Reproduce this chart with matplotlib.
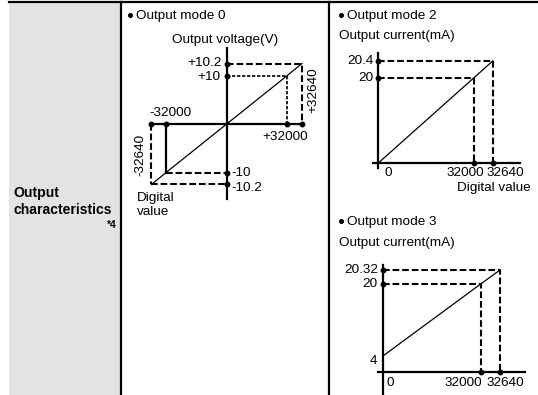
import numpy as np
import matplotlib
matplotlib.use('Agg')
import matplotlib.pyplot as plt

plt.rcParams['font.family'] = ['Liberation Sans', 'DejaVu Sans']

# chart values
mode0_digital = [-32640, -32000, 0, 32000, 32640]
mode0_voltage = [-10.2, -10, 0, 10, 10.2]
mode2_digital = [0, 32000, 32640]
mode2_current = [0, 20, 20.4]
mode3_digital = [0, 32000, 32640]
mode3_current = [4, 20, 20.32]

W, H = 538, 395
FS = 9.7
LONG = (0, (3.2, 1.4))
FINE = (0, (2.0, 1.0))

fig = plt.figure(figsize=(W / 100, H / 100), dpi=100)

# table frame in pixel coords
ax0 = fig.add_axes([0, 0, 1, 1])
ax0.set_xlim(0, W)
ax0.set_ylim(H, 0)
ax0.axis('off')
ax0.add_patch(plt.Rectangle((9, 2), 111, H, color='#e3e3e3', lw=0))
ax0.plot([9, W], [2, 2], color='black', lw=1.6)
ax0.plot([121, 121], [2, H], color='black', lw=1.6)
ax0.plot([329, 329], [2, H], color='black', lw=1.6)

ax0.text(13, 193, 'Output', fontsize=10.1, fontweight='bold', va='center')
ax0.text(13, 209.5, 'characteristics', fontsize=10.1, fontweight='bold', va='center')
ax0.text(116, 225.5, '*4', fontsize=7.5, fontweight='bold', va='center', ha='right')


def heading(x, y, s):
    ax0.plot([x], [y - 1.5], 'o', color='black', ms=2.6)
    ax0.text(x + 6, y, s, fontsize=FS, va='center')


heading(130, 16, 'Output mode 0')
heading(341, 16, 'Output mode 2')
heading(341, 222.5, 'Output mode 3')
ax0.text(225, 39.5, 'Output voltage(V)', fontsize=FS, ha='center', va='center')
ax0.text(339, 35.5, 'Output current(mA)', fontsize=FS, va='center')
ax0.text(339, 243, 'Output current(mA)', fontsize=FS, va='center')
ax0.text(137, 198, 'Digital', fontsize=FS, va='center')
ax0.text(137, 212, 'value', fontsize=FS, va='center')
ax0.text(494, 188.5, 'Digital value', fontsize=FS, ha='center', va='center')


def chart_axes(box, origin, xk, xp, yk, yp):
    # schematic (non-proportional) drawing: piecewise-linear scale
    l, t, r, b = box
    ox, oy = origin
    ax = fig.add_axes([l / W, 1 - b / H, (r - l) / W, (b - t) / H])
    ax.patch.set_alpha(0)
    fx = lambda v: np.interp(v, xk, xp)
    ix = lambda p: np.interp(p, xp, xk)
    fy = lambda v: np.interp(v, yk, yp)
    iy = lambda p: np.interp(p, yp, yk)
    ax.set_xscale('function', functions=(fx, ix))
    ax.set_yscale('function', functions=(fy, iy))
    ax.set_xlim(ix(l - ox), ix(r - ox))
    ax.set_ylim(iy(oy - b), iy(oy - t))
    ax.axis('off')
    return ax, ix, iy


def label(ax, xy, s, dx, dy, **kw):
    ax.annotate(s, xy, xytext=(dx, dy), textcoords='offset pixels',
                fontsize=FS, va='center', **kw)


# ---- Output mode 0 ----
ax, ix, iy = chart_axes((125, 40, 325, 215), (226.7, 124),
                        [-1e5, -32640, -32000, 0, 32000, 32640, 1e5],
                        [-200, -75.3, -60.6, 0, 60.6, 75.3, 200],
                        [-100, -10.2, -10, 0, 10, 10.2, 100],
                        [-200, -60.5, -48.5, 0, 48.5, 60.5, 200])
x0, x1, x3, x4 = mode0_digital[0], mode0_digital[1], mode0_digital[3], mode0_digital[4]
y0, y1, y3, y4 = mode0_voltage[0], mode0_voltage[1], mode0_voltage[3], mode0_voltage[4]
ax.plot([x0, x4], [0, 0], color='black', lw=1.6)
ax.plot([0, 0], [iy(-75), iy(76)], color='black', lw=1.6)
ax.plot([0, x4, x4], [y4, y4, 0], color='black', lw=1.5, ls=LONG)
ax.plot([0, x3, x3], [y3, y3, 0], color='black', lw=1.2, ls=FINE)
ax.plot([x1, x1], [0, y1], color='black', lw=1.6)
ax.plot([x1, 0], [y1, y1], color='black', lw=1.5, ls=LONG)
ax.plot([x0, x0], [0, y0], color='black', lw=1.5, ls=LONG)
ax.plot([x0, 0], [y0, y0], color='black', lw=1.5, ls=LONG)
ax.plot(mode0_digital, mode0_voltage, color='black', lw=0.9)
ax.plot([x0, x1, x3, x4], [0, 0, 0, 0], 'o', color='black', ms=3.2)
ax.plot([0, 0, 0, 0], [y0, y1, y3, y4], 'o', color='black', ms=3.2)
label(ax, (0, y4), '+10.2', -5, 0, ha='right')
label(ax, (0, y3), '+10', -6, -1, ha='right')
label(ax, (0, y1), '-10', 5, 0, ha='left')
label(ax, (0, y0), '-10.2', 5, -4, ha='left')
label(ax, (x1, 0), '-32000', 4, 11, ha='center')
label(ax, (x3, 0), '+32000', -2, -12.5, ha='center')
label(ax, (x4, 0), '+32640', 11, 34, ha='center', rotation=90)
label(ax, (x0, 0), '-32640', -11, -31, ha='center', rotation=90)

# ---- Output mode 2 ----
ax, ix, iy = chart_axes((335, 45, 530, 180), (378, 163.3),
                        [-1e5, 0, 32000, 32640, 1e5],
                        [-300, 0, 96, 114.7, 300],
                        [-100, 0, 20, 20.4, 100],
                        [-300, 0, 85.6, 102.3, 300])
ax.plot([ix(-5), ix(142)], [0, 0], color='black', lw=1.6)
ax.plot([0, 0], [iy(-5), iy(110)], color='black', lw=1.6)
ax.plot([0, mode2_digital[2], mode2_digital[2]], [mode2_current[2], mode2_current[2], 0],
        color='black', lw=1.5, ls=LONG)
ax.plot([0, mode2_digital[1], mode2_digital[1]], [mode2_current[1], mode2_current[1], 0],
        color='black', lw=1.5, ls=LONG)
ax.plot(mode2_digital, mode2_current, color='black', lw=0.9)
ax.plot(mode2_digital[1:], [0, 0], 'o', color='black', ms=3.2)
ax.plot([0, 0], mode2_current[1:], 'o', color='black', ms=3.2)
label(ax, (0, mode2_current[2]), '20.4', -4, 0, ha='right')
label(ax, (0, mode2_current[1]), '20', -5, 0, ha='right')
label(ax, (0, 0), '0', 10, -9.5, ha='center')
label(ax, (mode2_digital[1], 0), '32000', -9, -10, ha='center')
label(ax, (mode2_digital[2], 0), '32640', 13, -10, ha='center')

# ---- Output mode 3 ----
ax, ix, iy = chart_axes((335, 255, 530, 395), (383.3, 371.7),
                        [-1e5, 0, 32000, 32640, 1e5],
                        [-300, 0, 97.4, 116.7, 300],
                        [-100, 0, 4, 20, 20.32, 100],
                        [-300, 0, 16, 87.7, 101.7, 300])
ax.plot([ix(-5), ix(142)], [0, 0], color='black', lw=1.6)
ax.plot([0, 0], [iy(-30), iy(107)], color='black', lw=1.6)
ax.plot([0, mode3_digital[2], mode3_digital[2]], [mode3_current[2], mode3_current[2], 0],
        color='black', lw=1.5, ls=LONG)
ax.plot([0, mode3_digital[1], mode3_digital[1]], [mode3_current[1], mode3_current[1], 0],
        color='black', lw=1.5, ls=LONG)
ax.plot(mode3_digital, mode3_current, color='black', lw=0.9)
ax.plot(mode3_digital[1:], [0, 0], 'o', color='black', ms=3.2)
ax.plot([0, 0], mode3_current[1:], 'o', color='black', ms=3.2)
label(ax, (0, mode3_current[2]), '20.32', -5, 0, ha='right')
label(ax, (0, mode3_current[1]), '20', -6, 0, ha='right')
label(ax, (0, mode3_current[0]), '4', -6, -5, ha='right')
label(ax, (0, 0), '0', 7, -11, ha='center')
label(ax, (mode3_digital[1], 0), '32000', -17, -11, ha='center')
label(ax, (mode3_digital[2], 0), '32640', 5, -11, ha='center')

fig.savefig('out.png', dpi=100)
